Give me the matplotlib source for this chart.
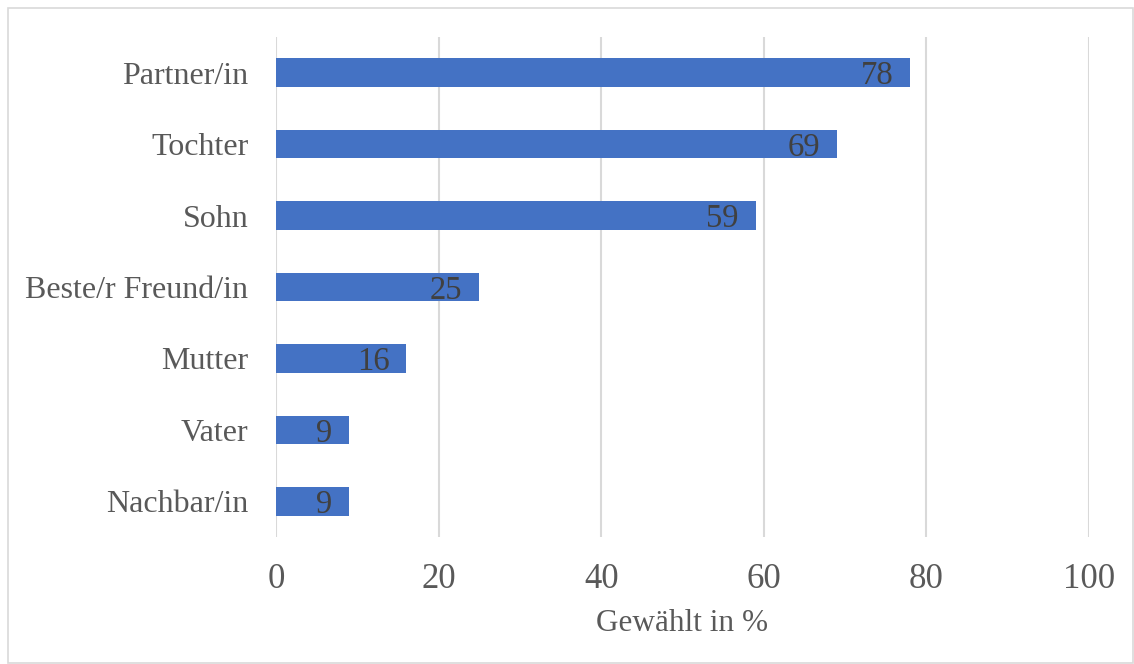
import matplotlib.pyplot as plt
from matplotlib.patches import Rectangle

categories = ['Partner/in', 'Tochter', 'Sohn', 'Beste/r Freund/in', 'Mutter', 'Vater', 'Nachbar/in']
values = [78, 69, 59, 25, 16, 9, 9]
xticks = [0, 20, 40, 60, 80, 100]

plt.rcParams['font.family'] = ['Liberation Serif', 'DejaVu Serif']

fig = plt.figure(figsize=(11.34, 6.64), dpi=100)
ax = fig.add_axes([0.2434, 0.1913, 0.7169, 0.753])

pos = list(range(len(categories)))
bars = ax.barh(pos, values, height=0.4, color='#4472C4', zorder=2)
ax.set_ylim(len(categories) - 0.5, -0.5)
ax.set_xlim(0, 100)
ax.set_yticks(pos)
ax.set_yticklabels(categories, fontsize=23, color='#595959')
ax.set_xticks(xticks)
ax.set_xticklabels([str(t) for t in xticks], fontsize=25, color='#595959')
ax.tick_params(axis='both', length=0)
ax.tick_params(axis='x', pad=19)
ax.tick_params(axis='y', pad=20)

for s in ax.spines.values():
    s.set_visible(False)
ax.grid(axis='x', color='#D9D9D9', linewidth=1.5, zorder=0)
ax.set_axisbelow(True)

for b, v in zip(bars, values):
    ax.annotate(str(v), xy=(b.get_width(), b.get_y() + b.get_height() / 2),
                xytext=(-12, -2.5), textcoords='offset points',
                ha='right', va='center', fontsize=23.5, color='#404040')

ax.set_xlabel('Gewählt in %', fontsize=22.5, color='#595959', labelpad=9)

# light frame around chart area
fig.patches.append(Rectangle((8 / 1134, 1 / 664), 1 - 9 / 1134, 1 - 9 / 664,
                             transform=fig.transFigure, fill=False,
                             edgecolor='#D9D9D9', linewidth=1.2))

fig.savefig('out.png', dpi=100)
